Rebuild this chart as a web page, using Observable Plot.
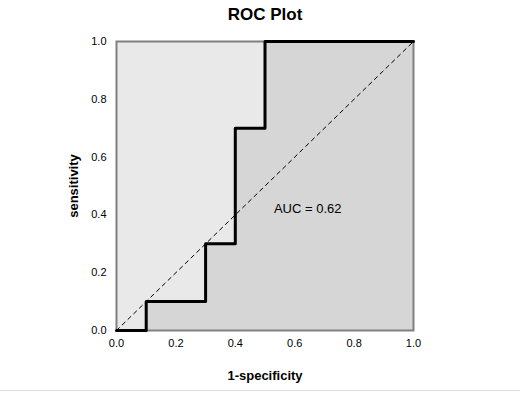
<!DOCTYPE html>
<html>
<head>
<meta charset="utf-8">
<script src="https://cdn.jsdelivr.net/npm/d3@7"></script>
<script src="https://cdn.jsdelivr.net/npm/@observablehq/plot@0.6"></script>
<style>
  html, body { margin: 0; padding: 0; background: #fff; }
  body { width: 520px; height: 393px; position: relative; overflow: hidden; font-family: Arial, "Liberation Sans", sans-serif; }
  #title { height: 30px; line-height: 30px; text-align: center; font-weight: bold; font-size: 17px; color: #000; padding-left: 10px; box-sizing: border-box; }
  #bottomline { position: absolute; left: 0; top: 390px; width: 520px; height: 1px; background: #dcdcdc; }
  svg g[aria-label="x-axis label"], svg g[aria-label="y-axis label"] { font-weight: bold; font-size: 13px; }
</style>
</head>
<body>
<div id="title">ROC Plot</div>
<div id="chart"></div>
<div id="bottomline"></div>
<script>
const fpr = [0, 0.1, 0.1, 0.3, 0.3, 0.4, 0.4, 0.5, 0.5, 1.0];
const tpr = [0, 0, 0.1, 0.1, 0.3, 0.3, 0.7, 0.7, 1.0, 1.0];
const diagonal = [0, 1];
const tickValues = [0, 0.2, 0.4, 0.6, 0.8, 1.0];
const aucLabel = "AUC = 0.62";
const aucPos = {x: 0.53, y: 0.42};

const roc = fpr.map((x, i) => ({x, y: tpr[i]}));
const diag = diagonal.map(v => ({x: v, y: v}));

const chart = Plot.plot({
  width: 520,
  height: 363,
  marginTop: 11,
  marginBottom: 63,
  marginLeft: 116,
  marginRight: 107,
  style: {fontFamily: 'Arial, "Liberation Sans", sans-serif', fontSize: "11px", color: "#000", background: "transparent"},
  x: {domain: [0, 1], ticks: tickValues, tickFormat: d3.format(".1f"), tickSize: 0, tickPadding: 9,
      label: "1-specificity", labelAnchor: "center", labelOffset: 49, labelArrow: "none"},
  y: {domain: [0, 1], ticks: tickValues, tickFormat: d3.format(".1f"), tickSize: 0, tickPadding: 10,
      label: "sensitivity", labelAnchor: "center", labelOffset: 48, labelArrow: "none"},
  marks: [
    Plot.frame({fill: "#e9e9e9", stroke: null}),
    Plot.areaY(roc, {x: "x", y1: 0, y2: "y", fill: "#d6d6d6"}),
    Plot.line(diag, {x: "x", y: "y", stroke: "#000", strokeWidth: 1, strokeDasharray: "4,4"}),
    Plot.frame({stroke: "#808080", strokeWidth: 2}),
    Plot.line(roc, {x: "x", y: "y", stroke: "#000", strokeWidth: 3}),
    Plot.text([aucPos], {x: "x", y: "y", text: () => aucLabel, textAnchor: "start", fontSize: 13, fill: "#000"})
  ]
});
document.getElementById("chart").appendChild(chart);
</script>
</body>
</html>
